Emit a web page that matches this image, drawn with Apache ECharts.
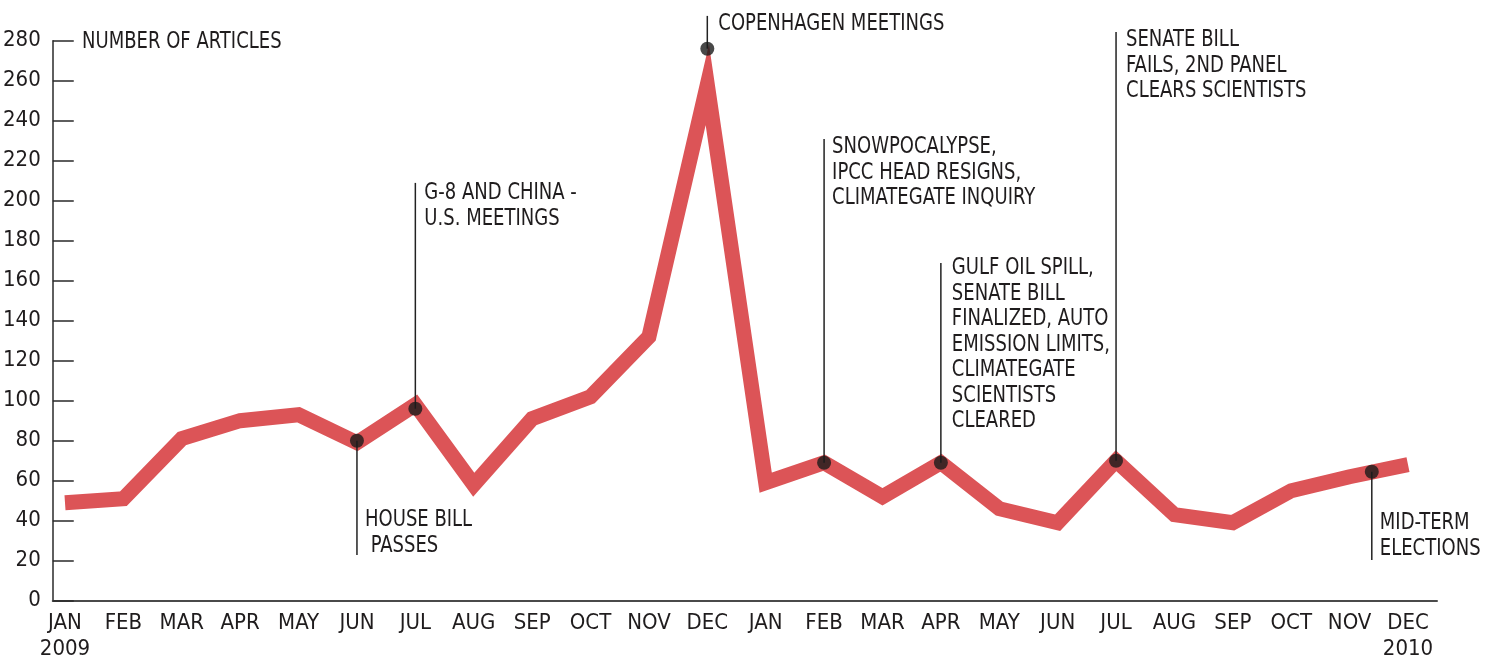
<!DOCTYPE html>
<html>
<head>
<meta charset="utf-8">
<script src="https://cdn.jsdelivr.net/npm/echarts@6/dist/echarts.min.js"></script>
<style>
html,body{margin:0;padding:0;background:#fff;}
#chart{width:1494px;height:664px;}
</style>
</head>
<body>
<div id="chart"></div>
<script>
// ---- data ----
var monthLabels = ['JAN\n2009','FEB','MAR','APR','MAY','JUN','JUL','AUG','SEP','OCT','NOV','DEC',
                   'JAN','FEB','MAR','APR','MAY','JUN','JUL','AUG','SEP','OCT','NOV','DEC\n2010'];
var articleCounts = [49, 51, 81, 90, 93, 79, 98, 58, 91, 102, 132, 258,
                     59, 69, 52, 69, 46, 39, 70, 43, 39, 55, 62, 68];
var yTicks = [0, 280, 20];           // min, max, interval
var eventMonth = [5, 6, 11, 13, 15, 18, 22.38];
var eventValue = [80, 96, 276, 69, 69, 70, 64.5];
var eventText = [
  'HOUSE BILL\n PASSES',
  'G-8 AND CHINA -\nU.S. MEETINGS',
  'COPENHAGEN MEETINGS',
  'SNOWPOCALYPSE,\nIPCC HEAD RESIGNS,\nCLIMATEGATE INQUIRY',
  'GULF OIL SPILL,\nSENATE BILL\nFINALIZED, AUTO\nEMISSION LIMITS,\nCLIMATEGATE\nSCIENTISTS\nCLEARED',
  'SENATE BILL\nFAILS, 2ND PANEL\nCLEARS SCIENTISTS',
  'MID-TERM\nELECTIONS'
];
var titleText = 'NUMBER OF ARTICLES';
// annotation layout (in axis units): leader end, text top; text x offset in px
var leaderEnd = [22.9, 208.9, 292.4, 230.9, 168.9, 284.4, 20.4];
var textTop   = [46.4, 209.9, 294.4, 232.9, 172.4, 286.4, 44.9];
var textDx    = [8, 9, 11, 8, 11, 10, 8];

var FONT = "'Liberation Sans Narrow','DejaVu Sans Condensed','Roboto Condensed','Arial Narrow',sans-serif";
var TXT = '#1f1c1d';
var RED = '#dc5457';
var SX = 0.89;

var chart = echarts.init(document.getElementById('chart'), null, {renderer:'canvas'});

var lineData = articleCounts.map(function(v,i){return [i,v];});
var dotData = eventMonth.map(function(m,i){return [m, eventValue[i]];});
var annData = eventMonth.map(function(m,i){return [m, eventValue[i], leaderEnd[i], textTop[i], i];});

var option = {
  animation:false,
  backgroundColor:'#fff',
  graphic:[
    {type:'text', x:82, y:29, scaleX:SX, z:10,
     style:{text:titleText, fill:TXT, font:'22.5px '+FONT, lineHeight:25.5, verticalAlign:'top', align:'left'}}
  ],
  grid:[
    {left:51, right:57, top:40.7, bottom:63.3},
    {left:65, right:86, top:40.7, bottom:63.3}
  ],
  xAxis:[
    {gridIndex:0, type:'value', min:0, max:1,
     axisLine:{show:true, lineStyle:{color:'#4a4a4a', width:2}},
     axisTick:{show:false}, axisLabel:{show:false}, splitLine:{show:false}},
    {gridIndex:1, type:'value', min:0, max:23, interval:1,
     axisLine:{show:false}, axisTick:{show:false}, splitLine:{show:false},
     axisLabel:{show:true, margin:10, fontFamily:FONT, fontSize:22, color:TXT, lineHeight:25.5,
       showMinLabel:true, showMaxLabel:true,
       formatter:function(v){ return monthLabels[Math.round(v)] || ''; }}}
  ],
  yAxis:[
    {gridIndex:0, type:'value', min:yTicks[0], max:yTicks[1], interval:yTicks[2],
     axisLine:{show:true, lineStyle:{color:'#2a2a2a', width:1.5}},
     axisTick:{show:true, inside:true, length:21, lineStyle:{color:'#2a2a2a', width:1.5}},
     splitLine:{show:false},
     axisLabel:{margin:12, fontFamily:FONT, fontSize:22, color:TXT}},
    {gridIndex:1, type:'value', min:yTicks[0], max:yTicks[1], show:false}
  ],
  series:[
    {type:'line', xAxisIndex:1, yAxisIndex:1, data:lineData, showSymbol:false, clip:false,
     lineStyle:{color:RED, width:15, join:'miter', miterLimit:20, cap:'butt'}, z:2},
    {type:'custom', xAxisIndex:1, yAxisIndex:1, data:annData, clip:false, z:3,
     renderItem:function(params, api){
       var m = api.value(0), dv = api.value(1), le = api.value(2), tt = api.value(3), idx = api.value(4);
       var p0 = api.coord([m, dv]), p1 = api.coord([m, le]), pt = api.coord([m, tt]);
       return {type:'group', children:[
         {type:'line', shape:{x1:p0[0], y1:p0[1], x2:p1[0], y2:p1[1]},
          style:{stroke:'#222', lineWidth:1.5}},
         {type:'text', x:p0[0]+textDx[idx], y:pt[1], scaleX:SX,
          style:{text:eventText[idx], fill:TXT, font:'22.5px '+FONT, lineHeight:25.5,
                 verticalAlign:'top', align:'left'}}
       ]};
     }},
    {type:'scatter', xAxisIndex:1, yAxisIndex:1, data:dotData, symbol:'circle', symbolSize:14,
     itemStyle:{color:'#1a1a1a'}, z:4, clip:false}
  ]
};
chart.setOption(option);
</script>
</body>
</html>
